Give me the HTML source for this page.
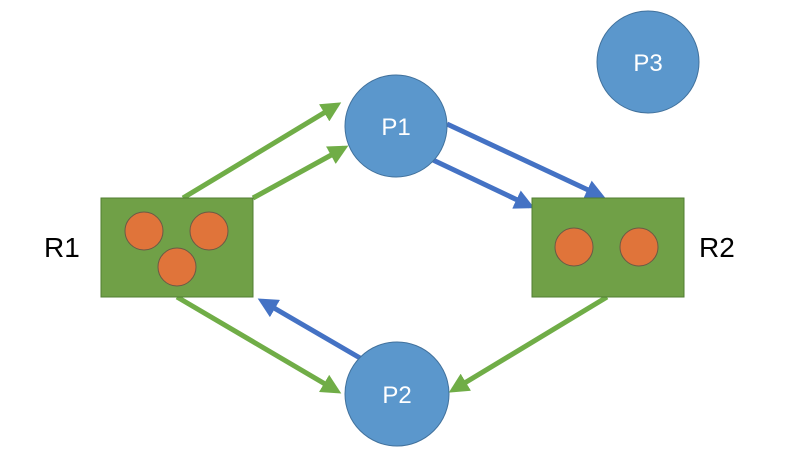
<!DOCTYPE html>
<html><head><meta charset="utf-8"><style>html,body{margin:0;padding:0;background:#fff;}</style></head>
<body>
<svg width="798" height="454" viewBox="0 0 798 454" xmlns="http://www.w3.org/2000/svg" font-family="Liberation Sans, sans-serif">
<defs>
<marker id="g" markerWidth="4" markerHeight="4" refX="3" refY="2" orient="auto" markerUnits="strokeWidth"><path d="M0,0 L4,2 L0,4 Z" fill="#70AD47"/></marker>
<marker id="b" markerWidth="4" markerHeight="4" refX="3" refY="2" orient="auto" markerUnits="strokeWidth"><path d="M0,0 L4,2 L0,4 Z" fill="#4472C4"/></marker>
</defs>
<g stroke-width="5" fill="none">
<line x1="183" y1="198" x2="337" y2="105" stroke="#70AD47" marker-end="url(#g)"/>
<line x1="253" y1="198" x2="344" y2="148" stroke="#70AD47" marker-end="url(#g)"/>
<line x1="177" y1="297" x2="337" y2="391" stroke="#70AD47" marker-end="url(#g)"/>
<line x1="607" y1="297" x2="453" y2="390" stroke="#70AD47" marker-end="url(#g)"/>
<line x1="360" y1="358" x2="262" y2="301" stroke="#4472C4" marker-end="url(#b)"/>
<line x1="447" y1="124" x2="601" y2="196" stroke="#4472C4" marker-end="url(#b)"/>
<line x1="433" y1="160" x2="530" y2="206" stroke="#4472C4" marker-end="url(#b)"/>
</g>
<rect x="101" y="198" width="152" height="99" fill="#70A047" stroke="#507e32" stroke-width="1"/>
<rect x="532" y="198" width="152" height="99" fill="#70A047" stroke="#507e32" stroke-width="1"/>
<g fill="#E0743A" stroke="#6b5a45" stroke-width="1">
<circle cx="144" cy="231" r="19"/><circle cx="209" cy="231" r="19"/><circle cx="177" cy="267" r="19"/>
<circle cx="574" cy="247" r="19"/><circle cx="639" cy="247" r="19"/>
</g>
<g fill="#5B97CC" stroke="#41719C" stroke-width="1">
<circle cx="396" cy="126" r="51"/><circle cx="397" cy="394" r="52"/><circle cx="648" cy="62" r="51"/>
</g>
<g fill="#fff" font-size="24" text-anchor="middle">
<text x="396" y="135">P1</text><text x="397" y="403">P2</text><text x="648" y="71">P3</text>
</g>
<g fill="#000" font-size="28">
<text x="44" y="257">R1</text><text x="699" y="257">R2</text>
</g>
</svg>
</body></html>
